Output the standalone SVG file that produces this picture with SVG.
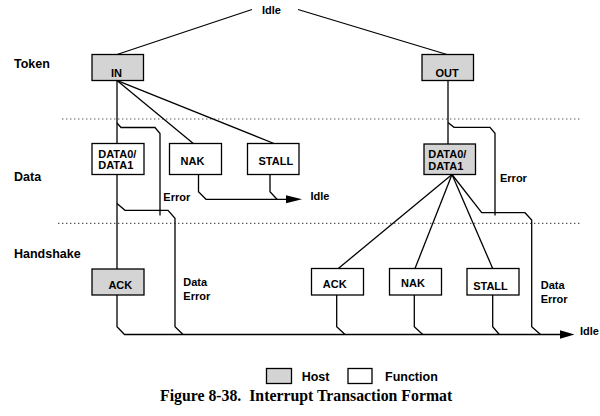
<svg xmlns="http://www.w3.org/2000/svg" width="600" height="416" viewBox="0 0 600 416">
<style>
.box{stroke:#000;stroke-width:1.3;fill:#fff}
.host{fill:#d4d4d4}
.ln{stroke:#000;stroke-width:1.3;fill:none}
.dot{stroke:#555;stroke-width:1.2;stroke-dasharray:1.4 2.6;fill:none}
.t{font-family:"Liberation Sans",Arial,sans-serif;font-weight:bold;font-size:11px;fill:#000}
.r{font-family:"Liberation Sans",Arial,sans-serif;font-weight:bold;font-size:12.5px;fill:#000}
.m{text-anchor:middle}
.cap{font-family:"Liberation Serif","Times New Roman",serif;font-weight:bold;font-size:15.8px;fill:#000}
.ah{fill:#000;stroke:none}
</style>
<rect width="600" height="416" fill="#fff"/>
<g id="separators">
<line class="dot" x1="62" y1="119" x2="581" y2="119"/>
<line class="dot" x1="58" y1="223.3" x2="581" y2="223.3"/>
</g>
<g id="row-labels">
<text class="r" x="14" y="67.5">Token</text>
<text class="r" x="14" y="181">Data</text>
<text class="r" x="14" y="257.5">Handshake</text>
</g>
<g id="connectors">
<path class="ln" d="M252,9.5 L117,54.5"/>
<path class="ln" d="M298,9.5 L447,54.5"/>
<!-- IN branch -->
<path class="ln" d="M117,80.5 V143.5"/>
<path class="ln" d="M117.3,80.7 L193.3,143.5"/>
<path class="ln" d="M117.3,80.7 L274,143.5"/>
<path class="ln" d="M117,123 L121,127.5 H155 L160,133.5 V215.5"/>
<path class="ln" d="M117,174.5 V269"/>
<path class="ln" d="M117,203.5 L125,210.3 H168 L175,218.3 V326.7 L183,334.5"/>
<path class="ln" d="M117,295 V326.7 L124.5,334.5 H561"/>
<polygon class="ah" points="560,330.3 574.5,334.5 560,338.7"/>
<path class="ln" d="M198.5,174.5 V191.7 L206,199.3 H287"/>
<path class="ln" d="M270,174.5 V191.7 L277,199.3"/>
<polygon class="ah" points="286,195.3 302,199.3 286,203.3"/>
<!-- OUT branch -->
<path class="ln" d="M448,80.5 V144"/>
<path class="ln" d="M448,122.5 L454,127.3 H490 L495,133.3 V215.5"/>
<path class="ln" d="M452,174.5 L338.3,268.5"/>
<path class="ln" d="M452,174.5 L415,268.5"/>
<path class="ln" d="M452,174.5 L492.7,268.5"/>
<path class="ln" d="M452,174.5 L481.7,212.7 H525 L531.7,220 V326.7 L540.5,334.5"/>
<path class="ln" d="M336.7,295 V326.7 L345,334.5"/>
<path class="ln" d="M414.3,295 V326.7 L422.7,334.5"/>
<path class="ln" d="M492.7,295 V326.7 L499.3,334.5"/>
</g>
<g id="connector-labels">
<text class="t" x="262" y="14">Idle</text>
<text class="t" x="310.5" y="200">Idle</text>
<text class="t" x="580" y="335">Idle</text>
<text class="t" x="163.3" y="201.3">Error</text>
<text class="t" x="500" y="181.7">Error</text>
<text class="t" x="183.3" y="286.3">Data</text>
<text class="t" x="183.3" y="300">Error</text>
<text class="t" x="540.7" y="289">Data</text>
<text class="t" x="540.7" y="302.5">Error</text>
</g>
<g id="node-in">
<rect class="box host" x="92" y="54.5" width="51.5" height="26"/>
<text class="t m" x="116.5" y="76.5">IN</text>
</g>
<g id="node-out">
<rect class="box host" x="422" y="54.5" width="51.5" height="26"/>
<text class="t m" x="447" y="76.5">OUT</text>
</g>
<g id="node-data-in">
<rect class="box" x="92" y="143.5" width="52" height="31"/>
<text class="t" x="98.3" y="157.5">DATA0/</text>
<text class="t" x="98.3" y="169.3">DATA1</text>
</g>
<g id="node-nak-in">
<rect class="box" x="169.5" y="143.5" width="52" height="31"/>
<text class="t m" x="192.5" y="164.5">NAK</text>
</g>
<g id="node-stall-in">
<rect class="box" x="247.5" y="143.5" width="51.5" height="31"/>
<text class="t m" x="275.8" y="164.8">STALL</text>
</g>
<g id="node-data-out">
<rect class="box host" x="424" y="144" width="51.5" height="30.5"/>
<text class="t" x="428.3" y="158">DATA0/</text>
<text class="t" x="428.3" y="169.5">DATA1</text>
</g>
<g id="node-ack-in">
<rect class="box host" x="92" y="269" width="52" height="26"/>
<text class="t m" x="120.3" y="289">ACK</text>
</g>
<g id="node-ack-out">
<rect class="box" x="311.5" y="268.5" width="52" height="26.5"/>
<text class="t m" x="334.7" y="288">ACK</text>
</g>
<g id="node-nak-out">
<rect class="box" x="389.5" y="268.5" width="52" height="26.5"/>
<text class="t m" x="413" y="286.8">NAK</text>
</g>
<g id="node-stall-out">
<rect class="box" x="467" y="268.5" width="52" height="26.5"/>
<text class="t m" x="490.5" y="290">STALL</text>
</g>
<g id="legend">
<rect class="box host" x="266.5" y="368.5" width="25" height="15"/>
<text class="r" x="301.7" y="381">Host</text>
<rect class="box" x="348" y="368.5" width="24" height="15"/>
<text class="r" x="385" y="381">Function</text>
</g>
<text class="cap" x="160" y="401" xml:space="preserve">Figure 8-38.  Interrupt Transaction Format</text>
</svg>
